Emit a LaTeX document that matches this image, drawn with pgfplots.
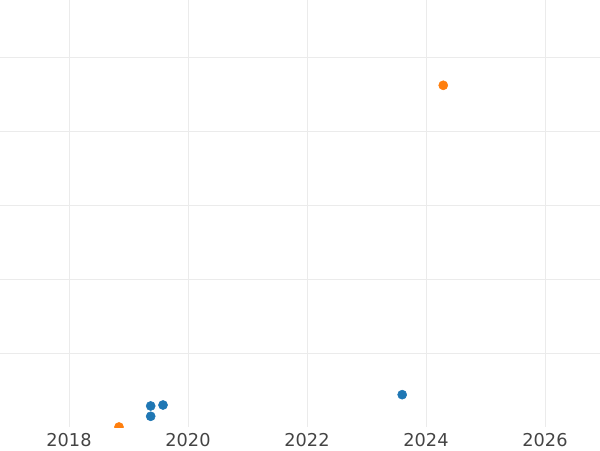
\documentclass[border=0pt]{standalone}
\usepackage{pgfplots}
\pgfplotsset{compat=1.18}
\usepackage{fontspec}
\setmainfont{DejaVu Sans}
\definecolor{cblue}{HTML}{1F77B4}
\definecolor{corange}{HTML}{FF7F0E}
\definecolor{gridc}{HTML}{EBEBEB}
\definecolor{tickc}{HTML}{444444}
\begin{document}
\begin{tikzpicture}
\begin{axis}[
  scale only axis, width=450pt, height=320.25pt,
  xmin=2016.8403, xmax=2026.9244,
  ymin=0, ymax=5.786,
  axis line style={draw=none},
  xtick={2018,2020,2022,2024,2026},
  ytick={1,2,3,4,5},
  yticklabels={},
  major tick length=0pt,
  grid=major,
  major grid style={gridc, line width=0.75pt},
  x tick label style={font=\fontsize{13.3pt}{16pt}\selectfont, text=tickc, yshift=-1.5pt},
  /pgf/number format/assume math mode=true,
  xticklabel={\pgfmathprintnumber[1000 sep={},fixed,precision=0]{\tick}},
  clip=true,
  clip marker paths=true,
]
\addplot[only marks, mark=*, mark size=3.4pt, cblue, mark options={draw=cblue, fill=cblue}] coordinates {
  (2019.373,0.145) (2019.373,0.285) (2019.58,0.298) (2023.60,0.438)
};
\addplot[only marks, mark=*, mark size=3.4pt, corange, mark options={draw=corange, fill=corange}] coordinates {
  (2018.84,0) (2024.29,4.630)
};
\end{axis}
\pgfresetboundingbox
\useasboundingbox (0,-17.25pt) rectangle (450pt,320.25pt);
\end{tikzpicture}
\end{document}
